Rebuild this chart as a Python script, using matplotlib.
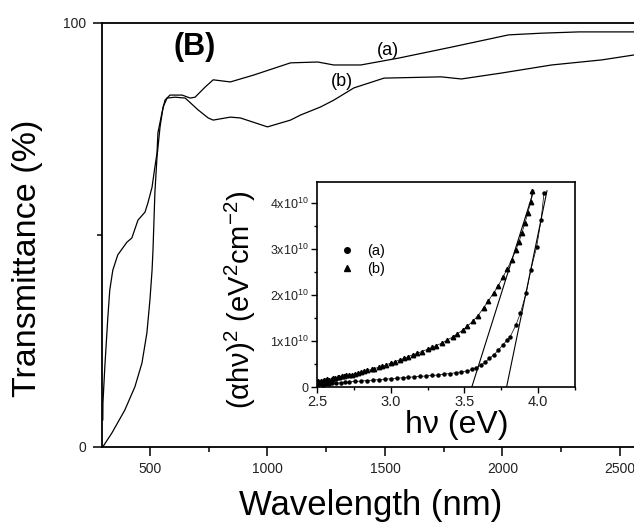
import matplotlib
matplotlib.use("Agg")
import matplotlib.pyplot as plt
from matplotlib.ticker import FixedLocator, FixedFormatter, MultipleLocator

plt.rcParams['font.family'] = ['Liberation Sans', 'DejaVu Sans']
plt.rcParams['mathtext.fontset'] = 'custom'
plt.rcParams['mathtext.rm'] = 'Liberation Sans'
plt.rcParams['mathtext.it'] = 'Liberation Sans'

#main spectra
wl_a = [299.5, 300, 308, 321, 329, 342, 363, 402, 423, 449, 479, 491, 509, 521, 530, 534,
        551, 564, 585, 637, 671, 692, 735, 769, 842, 940, 1098, 1214, 1282, 1397, 1556,
        1782, 2026, 2167, 2325, 2564, 2700]
T_a = [6.4, 10.4, 18.9, 30.7, 37.0, 41.7, 45.3, 48.3, 49.3, 53.5, 55.4, 57.5, 61.3, 66.0,
       69.3, 74.1, 78.8, 81.8, 83.0, 83.0, 82.3, 82.5, 84.9, 86.6, 86.1, 87.7, 90.6, 90.8,
       90.1, 90.1, 91.7, 94.3, 97.2, 97.6, 97.9, 97.9, 98.0]

wl_b = [299, 338, 393, 436, 466, 487, 500, 509, 513, 521, 530, 543, 556, 573, 607, 650,
        705, 748, 769, 842, 885, 1000, 1098, 1141, 1226, 1282, 1368, 1496, 1739, 1825,
        1996, 2209, 2423, 2564, 2700]
T_b = [0, 3.3, 8.7, 14.2, 19.8, 26.9, 34.7, 41.7, 46.5, 59.9, 68.4, 75.5, 80.2, 82.3,
       82.5, 82.3, 79.5, 77.6, 77.1, 77.8, 77.6, 75.5, 77.1, 78.3, 80.2, 81.8, 84.7, 87.0,
       87.3, 86.8, 88.2, 90.1, 91.3, 92.5, 93.0]

#inset: (alpha h nu)^2 vs h nu, in units of 1e10
ev_a = [2.50, 2.52, 2.54, 2.56, 2.58, 2.60, 2.63, 2.66, 2.69, 2.72, 2.76, 2.80, 2.84,
        2.88, 2.92, 2.96, 3.00, 3.04, 3.08, 3.12, 3.16, 3.20, 3.24, 3.28, 3.32, 3.36,
        3.40, 3.44, 3.48, 3.52, 3.55, 3.58, 3.61, 3.64, 3.67, 3.70, 3.73, 3.76, 3.79,
        3.81, 3.85, 3.88, 3.92, 3.95, 3.99, 4.02, 4.04]
ah_a = [0.04, 0.06, 0.05, 0.07, 0.06, 0.08, 0.08, 0.09, 0.10, 0.11, 0.12, 0.13, 0.14,
        0.15, 0.16, 0.17, 0.18, 0.19, 0.20, 0.21, 0.22, 0.23, 0.24, 0.25, 0.26, 0.28,
        0.29, 0.31, 0.33, 0.35, 0.38, 0.42, 0.47, 0.54, 0.62, 0.70, 0.80, 0.91, 1.02,
        1.09, 1.35, 1.61, 2.05, 2.54, 3.04, 3.63, 4.22]

ev_b = [2.50, 2.51, 2.52, 2.53, 2.54, 2.55, 2.56, 2.57, 2.58, 2.60, 2.61, 2.62, 2.64,
        2.65, 2.67, 2.68, 2.70, 2.72, 2.74, 2.76, 2.78, 2.80, 2.82, 2.84, 2.87, 2.89,
        2.92, 2.94, 2.97, 3.00, 3.03, 3.06, 3.09, 3.12, 3.15, 3.18, 3.21, 3.25, 3.28,
        3.31, 3.35, 3.38, 3.42, 3.45, 3.49, 3.52, 3.56, 3.59, 3.63, 3.66, 3.70, 3.73,
        3.76, 3.79, 3.82, 3.85, 3.87, 3.89, 3.91, 3.93, 3.95, 3.96]
ah_b = [0.10, 0.13, 0.11, 0.14, 0.13, 0.16, 0.15, 0.17, 0.16, 0.18, 0.19, 0.19, 0.21,
        0.21, 0.23, 0.23, 0.25, 0.26, 0.27, 0.29, 0.30, 0.32, 0.34, 0.36, 0.38, 0.40,
        0.43, 0.45, 0.48, 0.52, 0.55, 0.59, 0.62, 0.66, 0.70, 0.73, 0.77, 0.82, 0.86,
        0.90, 0.96, 1.01, 1.09, 1.15, 1.24, 1.32, 1.44, 1.54, 1.72, 1.86, 2.05, 2.20,
        2.38, 2.56, 2.76, 2.98, 3.15, 3.35, 3.55, 3.78, 4.02, 4.26]

#linear extrapolations to the band gap
fit_a_x = [3.786, 4.06]
fit_a_y = [0.0, 4.26]
fit_b_x = [3.55, 3.97]
fit_b_y = [0.0, 4.26]

inset_yticks = [0, 1, 2, 3, 4]
inset_ylabels = ["0", "1x10$^{10}$", "2x10$^{10}$", "3x10$^{10}$", "4x10$^{10}$"]

W, H = 634, 525
fig = plt.figure(figsize=(W / 100, H / 100), dpi=100)

#main axes (right side runs off the figure like the original)
ax = fig.add_axes([102 / W, (H - 447) / H, 565 / W, 424 / H])
ax.plot(wl_a, T_a, color='black', lw=0.9)
ax.plot(wl_b, T_b, color='black', lw=0.9)
ax.set_xlim(296, 2700)
ax.set_ylim(0, 100)
ax.xaxis.set_major_locator(FixedLocator([500, 1000, 1500, 2000, 2500]))
ax.xaxis.set_minor_locator(FixedLocator([750, 1250, 1750, 2250]))
ax.yaxis.set_major_locator(FixedLocator([0, 100]))
ax.yaxis.set_minor_locator(FixedLocator([50]))
ax.tick_params(which='major', direction='out', length=6.5, width=1.1, labelsize=10,
               labelcolor='#222222', pad=4)
ax.tick_params(which='minor', direction='out', length=3.6, width=1.1)
ax.tick_params(axis='y', which='major', pad=5)
for s in ['left', 'bottom', 'top']:
    ax.spines[s].set_linewidth(1.3)
ax.spines['right'].set_visible(False)

ax.text(691, 94.3, "(B)", fontsize=22, fontweight='bold', ha='center', va='center')
ax.text(1513, 93.6, "(a)", fontsize=13, ha='center', va='center')
ax.text(1317, 86.1, "(b)", fontsize=13, ha='center', va='center')

fig.text(28 / W, 1 - 258 / H, "Transmittance (%)", fontsize=24.5, rotation=90,
         ha='center', va='center')
fig.text(371 / W, 1 - 505 / H, "Wavelength (nm)", fontsize=25, ha='center', va='center')

#inset
ins = fig.add_axes([317 / W, (H - 387) / H, 258 / W, 205 / H])
ins.plot(ev_a, ah_a, color='black', lw=0.5, marker='o', ms=2.2, ls='-', label='(a)')
ins.plot(ev_b, ah_b, color='black', lw=0.5, marker='^', ms=3.2, ls='-', label='(b)')
ins.plot(fit_a_x, fit_a_y, color='black', lw=0.8)
ins.plot(fit_b_x, fit_b_y, color='black', lw=0.8)
ins.set_xlim(2.5, 4.25)
ins.set_ylim(0, 4.45)
ins.xaxis.set_major_locator(MultipleLocator(0.5))
ins.xaxis.set_minor_locator(MultipleLocator(0.25))
ins.yaxis.set_major_locator(FixedLocator(inset_yticks))
ins.yaxis.set_major_formatter(FixedFormatter(inset_ylabels))
ins.yaxis.set_minor_locator(MultipleLocator(0.5))
ins.tick_params(which='major', direction='out', length=4, width=1.0, labelsize=9,
                labelcolor='#222222', pad=2)
ins.tick_params(which='minor', direction='out', length=2.5, width=1.0)
ins.tick_params(axis='x', labelsize=10.5, pad=2)
for s in ins.spines.values():
    s.set_linewidth(1.2)

leg = ins.legend(loc='center left', bbox_to_anchor=(0.03, 0.62), frameon=False,
                 handlelength=1.2, handletextpad=0.8, labelspacing=0.3, fontsize=10.5)
for h in leg.legend_handles:
    h.set_linestyle('none')
    h.set_markersize(4)

fig.text(457 / W, 1 - 425 / H, "h\u03bd (eV)", fontsize=23, ha='center', va='center')
fig.text(240 / W, 1 - 300 / H, "(\u03b1h\u03bd)$^2$ (eV$^2$cm$^{-2}$)", fontsize=21,
         rotation=90, ha='center', va='center')

fig.savefig("out.png", dpi=100)
